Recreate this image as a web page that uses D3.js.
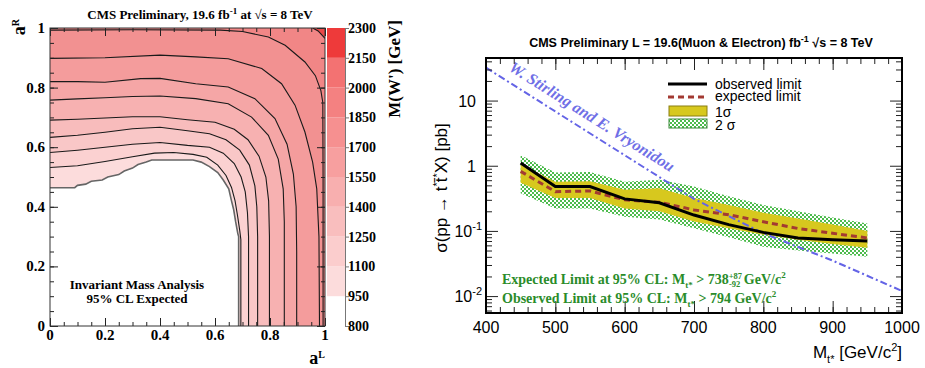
<!DOCTYPE html>
<html>
<head>
<meta charset="utf-8">
<script src="https://cdn.jsdelivr.net/npm/d3@7"></script>
<style>
  body { margin: 0; background: #fff; }
  svg { display: block; }
</style>
</head>
<body>
<svg id="chart" width="925" height="368"></svg>
<script>
// ---------- left panel: expected M(W') contours in (aL, aR) ----------
const contourLevels = [950, 1100, 1250, 1400, 1550, 1700, 1850, 2000, 2150, 2300];
const lineBoundary = [[0,0.464],[0.09,0.464],[0.1,0.472],[0.13,0.476],[0.15,0.486],[0.19,0.49],[0.21,0.5],[0.25,0.508],[0.27,0.52],[0.3,0.53],[0.32,0.542],[0.35,0.55],[0.37,0.557],[0.52,0.557],[0.55,0.55],[0.58,0.535],[0.61,0.515],[0.63,0.49],[0.65,0.46],[0.66,0.42],[0.668,0.39],[0.675,0.35],[0.683,0.31],[0.686,0.3],[0.686,0]];
const line1100 = [[0,0.532],[0.1,0.538],[0.2,0.552],[0.3,0.568],[0.38,0.58],[0.45,0.582],[0.52,0.576],[0.57,0.566],[0.61,0.54],[0.64,0.505],[0.66,0.465],[0.673,0.42],[0.682,0.37],[0.69,0.32],[0.694,0.29],[0.694,0]];
const line1250 = [[0,0.582],[0.1,0.59],[0.2,0.6],[0.3,0.61],[0.4,0.616],[0.5,0.606],[0.58,0.6],[0.63,0.58],[0.67,0.545],[0.695,0.5],[0.71,0.45],[0.718,0.38],[0.722,0.3],[0.722,0]];
const line1400 = [[0,0.633],[0.1,0.64],[0.2,0.65],[0.3,0.662],[0.4,0.667],[0.5,0.655],[0.58,0.645],[0.64,0.625],[0.69,0.59],[0.725,0.54],[0.745,0.47],[0.752,0.4],[0.755,0.3],[0.755,0]];
const line1550 = [[0,0.691],[0.1,0.694],[0.2,0.698],[0.3,0.702],[0.4,0.702],[0.5,0.692],[0.6,0.684],[0.67,0.66],[0.72,0.625],[0.76,0.57],[0.785,0.5],[0.795,0.42],[0.798,0.3],[0.798,0]];
const line1700 = [[0,0.758],[0.1,0.762],[0.2,0.766],[0.3,0.77],[0.4,0.772],[0.53,0.763],[0.648,0.746],[0.733,0.701],[0.794,0.64],[0.83,0.56],[0.848,0.46],[0.852,0.35],[0.852,0]];
const line1850 = [[0,0.82],[0.1,0.82],[0.2,0.818],[0.33,0.83],[0.4,0.831],[0.53,0.813],[0.648,0.802],[0.745,0.763],[0.818,0.696],[0.862,0.61],[0.885,0.51],[0.895,0.4],[0.897,0.25],[0.897,0]];
const line2000 = [[0,0.898],[0.2,0.9],[0.4,0.909],[0.53,0.903],[0.648,0.897],[0.77,0.864],[0.842,0.813],[0.891,0.741],[0.927,0.651],[0.955,0.55],[0.97,0.46],[0.978,0.3],[0.98,0]];
const line2150 = [[0,0.993],[0.3,0.994],[0.62,0.993],[0.7,0.988],[0.794,0.97],[0.855,0.942],[0.927,0.886],[0.965,0.84],[0.985,0.79],[0.992,0.75],[0.993,0.5],[0.993,0]];
const line2300 = [[0.955,1],[0.975,0.99],[0.99,0.975],[1,0.965]];
const axisTicksL = [0, 0.2, 0.4, 0.6, 0.8, 1];
const colorbarTicks = [800, 950, 1100, 1250, 1400, 1550, 1700, 1850, 2000, 2150, 2300];

// ---------- right panel: t* cross-section limits ----------
const masses   = [450, 500, 550, 600, 650, 700, 750, 800, 850, 900, 950];
const observed = [1.1, 0.48, 0.48, 0.31, 0.27, 0.175, 0.125, 0.095, 0.078, 0.073, 0.07];
const expected = [0.82, 0.40, 0.41, 0.30, 0.275, 0.21, 0.177, 0.138, 0.109, 0.092, 0.078];
const sig1Up   = [1.05, 0.57, 0.58, 0.43, 0.45, 0.32, 0.25, 0.19, 0.155, 0.125, 0.10];
const sig1Dn   = [0.55, 0.32, 0.32, 0.22, 0.20, 0.14, 0.11, 0.087, 0.073, 0.063, 0.055];
const sig2Up   = [1.45, 0.79, 0.80, 0.57, 0.61, 0.48, 0.34, 0.25, 0.20, 0.16, 0.13];
const sig2Dn   = [0.38, 0.22, 0.22, 0.165, 0.15, 0.11, 0.08, 0.057, 0.05, 0.045, 0.04];
const theoryMass  = [400, 500, 600, 700, 800, 900, 1000];
const theoryXsec  = [32, 6.8, 1.45, 0.31, 0.092, 0.035, 0.012];
const axisTicksR  = [400, 500, 600, 700, 800, 900, 1000];
const decadeTicks = [0.01, 0.1, 1, 10];

const serif = '"Liberation Serif", "Times New Roman", serif';
const sans = '"Liberation Sans", Arial, sans-serif';
const svg = d3.select('#chart');
const defs = svg.append('defs');

// small helper for text with sub/superscripts
function richText(g, x, y, parts, attrs) {
  const t = g.append('text').attr('x', x).attr('y', y);
  Object.entries(attrs).forEach(([k, v]) => t.attr(k, v));
  parts.forEach(p => {
    const s = t.append('tspan').text(p.t);
    if (p.dy) s.attr('dy', p.dy);
    if (p.dx) s.attr('dx', p.dx);
    if (p.size) s.attr('font-size', p.size);
  });
  return t;
}

function cleanAxis(g) {
  g.select('.domain').remove();
  g.selectAll('.tick line').attr('stroke', '#222');
  return g;
}

// ================= LEFT PANEL =================
const xL = d3.scaleLinear().domain([0, 1]).range([50, 325]);
const yL = d3.scaleLinear().domain([0, 1]).range([326, 28]);
const plotColor = d3.scaleLinear().domain([950, 2150, 2300]).range(['#fcdcdc', '#f18686', '#ea4848']);
const cbColor = d3.scaleLinear().domain([875, 1025, 2075, 2225]).range(['#ffffff', '#fcdcdc', '#f37272', '#ee3a3a']);

defs.append('clipPath').attr('id', 'clipL')
  .append('rect').attr('x', 50).attr('y', 28).attr('width', 275).attr('height', 298);

const contours = [lineBoundary, line1100, line1250, line1400, line1550, line1700, line1850, line2000, line2150, line2300];
const lineL = d3.line().x(d => xL(d[0])).y(d => yL(d[1]));

const bands = svg.append('g').attr('clip-path', 'url(#clipL)');
contours.forEach((pts, i) => {
  bands.append('path')
    .attr('d', lineL(pts.concat([[1, 0], [1, 1], [0, 1]])) + 'Z')
    .attr('fill', plotColor(contourLevels[i]));
});
contours.forEach((pts, i) => {
  bands.append('path')
    .attr('d', lineL(pts))
    .attr('fill', 'none')
    .attr('stroke', i === 0 ? '#666' : '#1a1a1a')
    .attr('stroke-width', i === 0 ? 1.6 : 1.1);
});

const minorL = d3.range(0, 1.0001, 0.05);
[['axisBottom', 'translate(0,326)', xL], ['axisTop', 'translate(0,28)', xL],
 ['axisLeft', 'translate(50,0)', yL], ['axisRight', 'translate(325,0)', yL]].forEach(([fn, tr, sc]) => {
  svg.append('g').attr('transform', tr).call(d3[fn](sc).tickValues(minorL).tickSize(-4).tickFormat('')).call(cleanAxis);
  svg.append('g').attr('transform', tr).call(d3[fn](sc).tickValues(axisTicksL).tickSize(-8).tickFormat('')).call(cleanAxis);
});
svg.append('rect').attr('x', 50).attr('y', 28).attr('width', 275).attr('height', 298)
  .attr('fill', 'none').attr('stroke', '#333');

const fmtL = d3.format('~g');
svg.append('g').selectAll('text').data(axisTicksL).join('text')
  .attr('x', d => xL(d)).attr('y', 340).attr('text-anchor', 'middle')
  .attr('font-family', serif).attr('font-weight', 'bold').attr('font-size', 15)
  .text(fmtL);
svg.append('g').selectAll('text').data(axisTicksL).join('text')
  .attr('x', 45).attr('y', d => yL(d) + 5).attr('text-anchor', 'end')
  .attr('font-family', serif).attr('font-weight', 'bold').attr('font-size', 15)
  .text(fmtL);

richText(svg, 25, 19, [{ t: 'a' }, { t: 'R', dy: -6, size: 10 }],
  { 'text-anchor': 'end', 'font-family': serif, 'font-weight': 'bold', 'font-size': 18 })
  .attr('transform', 'rotate(-90,25,19)');
richText(svg, 325, 364, [{ t: 'a' }, { t: 'L', dy: -6, size: 10 }],
  { 'text-anchor': 'end', 'font-family': serif, 'font-weight': 'bold', 'font-size': 18 });

richText(svg, 200, 19, [{ t: 'CMS Preliminary, 19.6 fb' }, { t: '-1', dy: -5, size: 9 }, { t: ' at  √s = 8 TeV', dy: 5 }],
  { 'text-anchor': 'middle', 'font-family': serif, 'font-weight': 'bold', 'font-size': 13 });

svg.append('text').attr('x', 137).attr('y', 289).attr('text-anchor', 'middle')
  .attr('font-family', serif).attr('font-weight', 'bold').attr('font-size', 13)
  .text('Invariant Mass Analysis');
svg.append('text').attr('x', 137).attr('y', 303).attr('text-anchor', 'middle')
  .attr('font-family', serif).attr('font-weight', 'bold').attr('font-size', 13)
  .text('95% CL Expected');

// colour bar
const yCb = d3.scaleLinear().domain([800, 2300]).range([326, 28]);
svg.append('g').selectAll('rect').data(colorbarTicks.slice(0, -1)).join('rect')
  .attr('x', 327).attr('width', 18)
  .attr('y', d => yCb(d + 150)).attr('height', d => yCb(d) - yCb(d + 150))
  .attr('fill', d => cbColor(d + 75));
svg.append('g').attr('transform', 'translate(345,0)')
  .call(d3.axisRight(yCb).tickValues(colorbarTicks).tickSize(4).tickFormat(''))
  .call(g => g.select('.domain').attr('stroke', '#777'))
  .call(g => g.selectAll('.tick line').attr('stroke', '#777'));
svg.append('g').selectAll('text').data(colorbarTicks).join('text')
  .attr('x', 348).attr('y', d => yCb(d) + 5)
  .attr('font-family', serif).attr('font-weight', 'bold').attr('font-size', 14)
  .text(d => d);
svg.append('text').attr('transform', 'translate(400,20) rotate(-90)').attr('text-anchor', 'end')
  .attr('font-family', serif).attr('font-weight', 'bold').attr('font-size', 17)
  .text("M(W') [GeV]");

// ================= RIGHT PANEL =================
const xR = d3.scaleLinear().domain([400, 1000]).range([486, 902]);
const yR = d3.scaleLog().domain([0.0055, 45]).range([313, 58]);

defs.append('clipPath').attr('id', 'clipR')
  .append('rect').attr('x', 486).attr('y', 58).attr('width', 416).attr('height', 255);
const pat = defs.append('pattern').attr('id', 'hatch').attr('patternUnits', 'userSpaceOnUse')
  .attr('width', 4).attr('height', 4);
pat.append('rect').attr('width', 4).attr('height', 4).attr('fill', '#fff');
pat.append('rect').attr('width', 2).attr('height', 2).attr('fill', '#4cbb4c');
pat.append('rect').attr('x', 2).attr('y', 2).attr('width', 2).attr('height', 2).attr('fill', '#4cbb4c');

const plotR = svg.append('g').attr('clip-path', 'url(#clipR)');
const rows = masses.map((m, i) => ({ m, obs: observed[i], exp: expected[i],
  s1u: sig1Up[i], s1d: sig1Dn[i], s2u: sig2Up[i], s2d: sig2Dn[i] }));

plotR.append('path').datum(rows)
  .attr('d', d3.area().x(d => xR(d.m)).y0(d => yR(d.s2d)).y1(d => yR(d.s2u)))
  .attr('fill', 'url(#hatch)');
plotR.append('path').datum(rows)
  .attr('d', d3.area().x(d => xR(d.m)).y0(d => yR(d.s1d)).y1(d => yR(d.s1u)))
  .attr('fill', '#d7c81e');

const theory = theoryMass.map((m, i) => ({ m, v: theoryXsec[i] }));
plotR.append('path').datum(theory)
  .attr('d', d3.line().x(d => xR(d.m)).y(d => yR(d.v)))
  .attr('fill', 'none').attr('stroke', '#6464e6').attr('stroke-width', 2)
  .attr('stroke-dasharray', '7,3,2,3');

plotR.append('path').datum(rows)
  .attr('d', d3.line().x(d => xR(d.m)).y(d => yR(d.exp)))
  .attr('fill', 'none').attr('stroke', '#a33a32').attr('stroke-width', 3)
  .attr('stroke-dasharray', '6,4');
plotR.append('path').datum(rows)
  .attr('d', d3.line().x(d => xR(d.m)).y(d => yR(d.obs)))
  .attr('fill', 'none').attr('stroke', '#000').attr('stroke-width', 3);

// theory label along the line
const ang = Math.atan2(yR(theoryXsec[3]) - yR(theoryXsec[0]), xR(theoryMass[3]) - xR(theoryMass[0])) * 180 / Math.PI;
svg.append('text').attr('transform', `translate(508,70) rotate(${ang})`)
  .attr('font-family', serif).attr('font-weight', 'bold').attr('font-style', 'italic')
  .attr('font-size', 16).attr('fill', '#6f6fe6')
  .text('W. Stirling and E. Vryonidou');

// ticks
const minorX = d3.range(400, 1000.1, 20);
const minorY = [];
[0.001, 0.01, 0.1, 1, 10].forEach(dec => d3.range(2, 10).forEach(k => {
  const v = dec * k;
  if (v > 0.0055 && v < 45) minorY.push(v);
}));
[['axisBottom', 'translate(0,313)', xR, minorX, axisTicksR],
 ['axisTop', 'translate(0,58)', xR, minorX, axisTicksR],
 ['axisLeft', 'translate(486,0)', yR, minorY, decadeTicks],
 ['axisRight', 'translate(902,0)', yR, minorY, decadeTicks]].forEach(([fn, tr, sc, mn, mj]) => {
  svg.append('g').attr('transform', tr).call(d3[fn](sc).tickValues(mn).tickSize(-6).tickFormat('')).call(cleanAxis);
  svg.append('g').attr('transform', tr).call(d3[fn](sc).tickValues(mj).tickSize(-12).tickFormat('')).call(cleanAxis);
});
svg.selectAll('.tick line').attr('stroke-width', 1);
svg.append('rect').attr('x', 486).attr('y', 58).attr('width', 416).attr('height', 255)
  .attr('fill', 'none').attr('stroke', '#000').attr('stroke-width', 2);

svg.append('g').selectAll('text').data(axisTicksR).join('text')
  .attr('x', d => xR(d)).attr('y', 333).attr('text-anchor', 'middle')
  .attr('font-family', sans).attr('font-size', 16).text(d => d);
decadeTicks.forEach(v => {
  const e = Math.round(Math.log10(v));
  if (e >= 0) {
    svg.append('text').attr('x', 476).attr('y', yR(v) + 6).attr('text-anchor', 'end')
      .attr('font-family', sans).attr('font-size', 16).text(e === 0 ? '1' : '10');
  } else {
    richText(svg, 482, yR(v) + 6, [{ t: '10' }, { t: String(e), dy: -7, size: 11 }],
      { 'text-anchor': 'end', 'font-family': sans, 'font-size': 16 });
  }
});

richText(svg, 902, 358, [{ t: 'M' }, { t: 't*', dy: 5, size: 11 }, { t: ' [GeV/c', dy: -5 }, { t: '2', dy: -7, size: 11 }, { t: ']', dy: 7 }],
  { 'text-anchor': 'end', 'font-family': sans, 'font-size': 17 });
richText(svg, 0, 0, [{ t: 'σ(pp → t' }, { t: '*', dy: -6, size: 11 }, { t: 't\u0304', dy: 6 }, { t: '*', dy: -6, size: 11 }, { t: 'X) [pb]', dy: 6 }],
  { 'text-anchor': 'middle', 'font-family': sans, 'font-size': 17, transform: 'translate(447,188) rotate(-90)' });

richText(svg, 701, 47, [{ t: 'CMS Preliminary L = 19.6(Muon & Electron) fb' }, { t: '-1', dy: -5, size: 9 }, { t: '  √s = 8 TeV', dy: 5 }],
  { 'text-anchor': 'middle', 'font-family': sans, 'font-weight': 'bold', 'font-size': 12.5 });

// legend
const lg = svg.append('g');
lg.append('line').attr('x1', 668).attr('x2', 707).attr('y1', 84).attr('y2', 84).attr('stroke', '#000').attr('stroke-width', 3);
lg.append('line').attr('x1', 668).attr('x2', 707).attr('y1', 97).attr('y2', 97).attr('stroke', '#a33a32').attr('stroke-width', 3).attr('stroke-dasharray', '6,4');
lg.append('rect').attr('x', 669).attr('y', 106).attr('width', 38).attr('height', 10).attr('fill', '#d7c81e').attr('stroke', '#8a7f10');
lg.append('rect').attr('x', 669).attr('y', 119).attr('width', 38).attr('height', 9).attr('fill', 'url(#hatch)').attr('stroke', '#3a8a3a');
[['observed limit', 88.5], ['expected limit', 101], ['1σ', 117], ['2 σ', 129.5]].forEach(([t, y]) => {
  lg.append('text').attr('x', 715).attr('y', y).attr('font-family', sans).attr('font-size', 14).text(t);
});

// limit annotations
const green = { 'font-family': serif, 'font-weight': 'bold', 'font-size': 14, fill: '#2a8c2a' };
richText(svg, 502, 284, [{ t: 'Expected Limit at 95% CL: M' }, { t: 't*', dy: 4, size: 9 }, { t: ' > 738', dy: -4 },
  { t: '+87', dy: -5, size: 8.5 }, { t: '-92', dx: -13, dy: 8, size: 8.5 }, { t: ' GeV/c', dy: -3 }, { t: '2', dy: -6, size: 9 }], green);
richText(svg, 502, 303, [{ t: 'Observed Limit at 95% CL: M' }, { t: 't*', dy: 4, size: 9 }, { t: ' > 794 GeV/c', dy: -4 },
  { t: '2', dy: -6, size: 9 }], green);
</script>
</body>
</html>
